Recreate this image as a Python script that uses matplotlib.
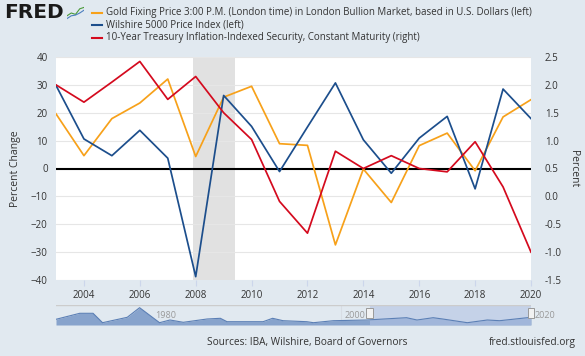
import numpy as np
import matplotlib
matplotlib.use("Agg")
import matplotlib.pyplot as plt
from matplotlib.patches import Rectangle

plt.rcParams["font.family"] = ["Open Sans", "DejaVu Sans"]

# annual percent change / level
years = list(range(2003, 2021))
gold = [19.6, 4.6, 17.9, 23.5, 32.1, 4.3, 25.6, 29.5, 8.9, 8.3, -27.4, -0.2,
        -12.2, 8.2, 12.7, -0.8, 18.5, 24.7]
wilshire = [29.8, 10.6, 4.6, 13.7, 3.7, -38.8, 26.2, 15.1, -1.1, 14.9, 30.7,
            10.3, -1.7, 10.9, 18.7, -7.3, 28.5, 17.9]
tips = [2.00, 1.69, 2.05, 2.42, 1.74, 2.15, 1.50, 1.02, -0.09, -0.66, 0.81,
        0.50, 0.73, 0.50, 0.44, 0.98, 0.17, -1.00]

recession = (2007.92, 2009.42)

# navigator (overview strip) shape, rough relative heights
nav_years = [1970.0, 1972.5, 1973.9, 1974.9, 1977.5, 1978.8, 1980.9, 1982.0,
             1983.4, 1985.9, 1987.3, 1988.0, 1991.8, 1992.8, 1993.9, 1996.4,
             1997.1, 1999.2, 2002.7, 2006.9, 2008.0, 2009.7, 2010.7, 2013.3,
             2015.4, 2016.7, 2020.0]
nav_values = [5.7, 11.7, 11.7, 2.3, 7.7, 17.3, 2.3, 5.0, 2.7, 6.0, 6.7, 3.3,
              3.3, 6.7, 4.3, 3.3, 2.3, 4.3, 5.0, 7.3, 5.0, 7.3, 6.0, 2.3,
              5.0, 4.3, 7.7]

labels = [
    "Gold Fixing Price 3:00 P.M. (London time) in London Bullion Market, based in U.S. Dollars (left)",
    "Wilshire 5000 Price Index (left)",
    "10-Year Treasury Inflation-Indexed Security, Constant Maturity (right)",
]
colors = ["#f7a11a", "#1c4e8c", "#d40a1e"]

BG = "#e1e9f0"
TXT = "#333333"
W, H = 585, 356

fig = plt.figure(figsize=(W / 100, H / 100), dpi=100)
fig.patch.set_facecolor(BG)


def box(x0, y0, x1, y1):
    # pixel box (top-left origin) -> figure fraction rect
    return [x0 / W, 1 - y1 / H, (x1 - x0) / W, (y1 - y0) / H]


ax = fig.add_axes(box(56, 57, 531, 280))
ax.set_facecolor("white")
ax.axvspan(*recession, color="#e1e1e1", zorder=0, lw=0)
ax.plot(years, gold, color=colors[0], lw=1.25, zorder=3)
ax.plot(years, wilshire, color=colors[1], lw=1.25, zorder=3)
ax.axhline(0, color="black", lw=1.5, zorder=2)
ax.set_xlim(2003, 2020)
ax.set_ylim(-40, 40)
ax.set_yticks(range(-40, 41, 10))
ax.set_xticks(range(2004, 2021, 2))
ax.grid(axis="y", color="#e6e6e6", lw=0.8)
ax.set_axisbelow(True)
for s in ax.spines.values():
    s.set_visible(False)
ax.tick_params(axis="y", length=0, labelsize=7, labelcolor=TXT, pad=6)
ax.tick_params(axis="x", length=4, color="#ccd6eb", labelsize=7,
               labelcolor=TXT, pad=3)
ax.set_ylabel("Percent Change", fontsize=7.5, color=TXT, labelpad=7)

ax2 = ax.twinx()
ax2.plot(years, tips, color=colors[2], lw=1.25, zorder=3)
ax2.set_ylim(-1.5, 2.5)
ax2.set_yticks(np.arange(-1.5, 2.51, 0.5))
ax2.set_yticklabels([f"{v:.1f}" for v in np.arange(-1.5, 2.51, 0.5)])
for s in ax2.spines.values():
    s.set_visible(False)
ax2.tick_params(axis="y", length=0, labelsize=7, labelcolor=TXT, pad=10)
ax2.set_ylabel("Percent", fontsize=7.5, color=TXT, rotation=270, labelpad=12)

# header: logo + legend
fig.text(4 / W, 1 - 13 / H, "FRED", fontsize=14.5, fontweight="bold",
         family="DejaVu Sans", color="#1a1a1a", va="center", ha="left")
ic = fig.add_axes(box(67, 6, 84, 20))
ic.set_facecolor("#e8ecef")
ic.plot([0, 1, 2, 3, 4], [0.3, 0.5, 0.4, 0.8, 0.9], color="#4a9a3a", lw=0.8)
ic.plot([0, 1, 2, 3, 4], [0.1, 0.3, 0.35, 0.5, 0.7], color="#4d7fc0", lw=0.8)
ic.set_xlim(0, 4)
ic.set_ylim(0, 1)
ic.axis("off")

for i, (lab, c) in enumerate(zip(labels, colors)):
    yy = 1 - (12.7 + 12.5 * i) / H
    fig.add_artist(plt.Line2D([92 / W, 102 / W], [yy, yy], color=c, lw=1.5,
                              transform=fig.transFigure))
    fig.text(106 / W, yy, lab, fontsize=7.0, color=TXT, va="center", ha="left")

# navigator strip
nav = fig.add_axes(box(56, 305, 531, 325))
nav.set_facecolor(BG)
nav.fill_between(nav_years, nav_values, 0, color="#87a3cc", lw=0)
nav.plot(nav_years, nav_values, color="#5b7fb5", lw=0.8)
nav.axvspan(2003, 2020, color="#b3c4e4", alpha=0.6, lw=0)
nav.set_xlim(1970, 2020)
nav.set_ylim(0, 20)
nav.axhline(20, color="#cccccc", lw=1)
nav.axvline(2000, color="#d8dde4", lw=0.8, zorder=0)
for yr in (1980, 2000, 2020):
    nav.text(yr + 0.4, 9, str(yr), fontsize=6.5, color="#999999",
             va="center", ha="left", clip_on=False)
for yr in (2003, 2020):
    nav.add_patch(Rectangle((yr - 0.35, 7), 0.7, 10, facecolor="#f2f2f2",
                            edgecolor="#999999", lw=0.7, zorder=5,
                            clip_on=False))
nav.set_xticks([])
nav.set_yticks([])
for s in nav.spines.values():
    s.set_visible(False)

fig.text(307 / W, 1 - 343 / H, "Sources: IBA, Wilshire, Board of Governors",
         fontsize=7.3, color=TXT, ha="center", va="center")
fig.text(576 / W, 1 - 343 / H, "fred.stlouisfed.org", fontsize=7.3,
         color=TXT, ha="right", va="center")

fig.savefig("out.png", dpi=100, facecolor=BG)
